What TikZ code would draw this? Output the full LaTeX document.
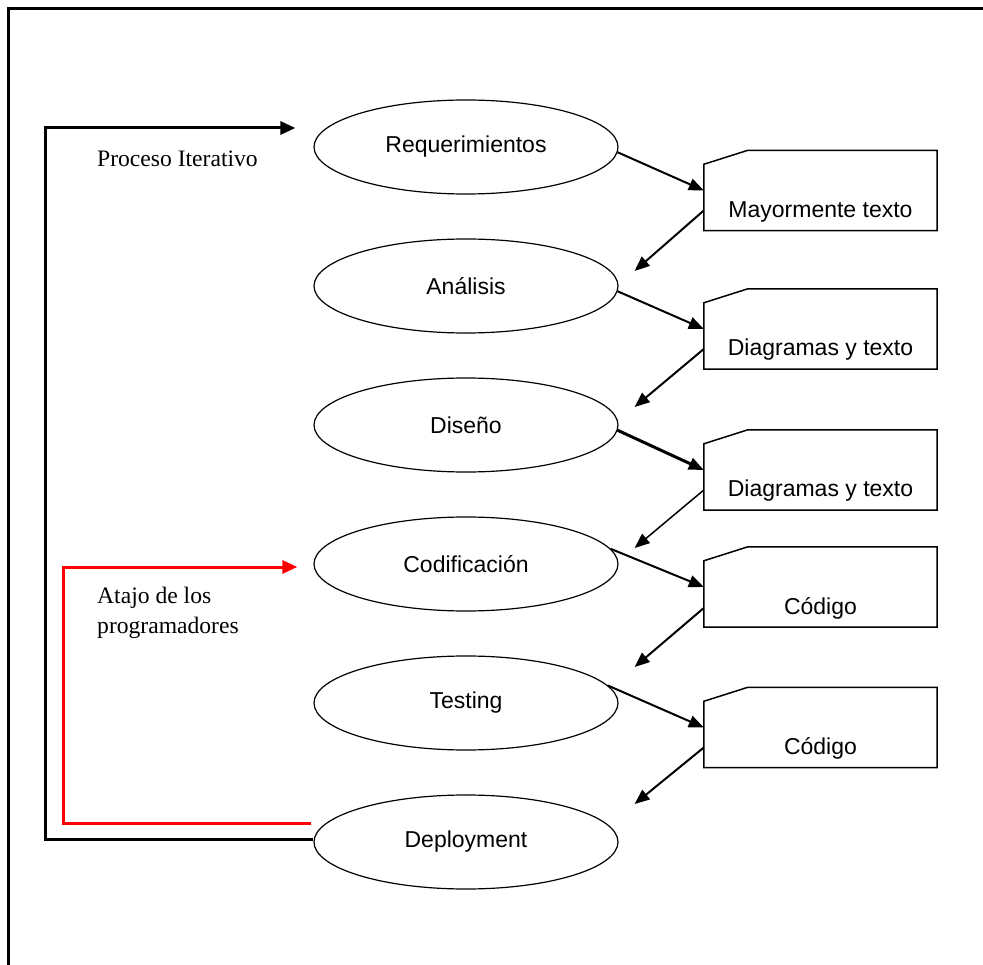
\documentclass[tikz,border=0pt]{standalone}
\usepackage{fontspec}
\setmainfont{Liberation Serif}
\newfontfamily\sansfam{Liberation Sans}
\usetikzlibrary{shapes.geometric,arrows.meta,calc}

\begin{document}
\begin{tikzpicture}[x=1pt,y=-1pt,
  stage/.style={ellipse,draw,line width=1.2pt,minimum width=304pt,minimum height=94pt,
    inner sep=0pt,font=\sansfam\fontsize{23}{27}\selectfont},
  doc/.style={minimum width=233pt,minimum height=80pt,inner sep=0pt,
    font=\sansfam\fontsize{23}{27}\selectfont},
  docline/.style={line width=1.5pt,line join=miter},
  flow/.style={line width=2pt,-{Triangle[length=15pt,width=12pt]}},
  loopline/.style={line width=3pt,-{Triangle[length=15pt,width=13pt]}},
  note/.style={font=\fontsize{23.6}{30}\selectfont,inner sep=0pt}
]
\useasboundingbox (0,0) rectangle (983,965);
\fill[white] (0,0) rectangle (983,965);

% outer frame
\draw[line width=3pt] (8,965) -- (8,9) -- (983,9);

% stages
\node[stage] (req) at (466,147) {Requerimientos};
\node[stage] (ana) at (466,286) {Análisis};
\node[stage] (dis) at (466,425) {Diseño};
\node[stage] (cod) at (466,564) {Codificación};
\node[stage] (tes) at (466,703) {Testing};
\node[stage] (dep) at (466,842) {Deployment};

% artefacts
\node[doc] (d1) at (820.5,190.5) {\raisebox{-27pt}[0pt][0pt]{Mayormente texto}};
\node[doc] (d2) at (820.5,329)   {\raisebox{-27pt}[0pt][0pt]{Diagramas y texto}};
\node[doc] (d3) at (820.5,470)   {\raisebox{-27pt}[0pt][0pt]{Diagramas y texto}};
\node[doc] (d4) at (820.5,587)   {\raisebox{-27pt}[0pt][0pt]{Código}};
\node[doc] (d5) at (820.5,727.5) {\raisebox{-27pt}[0pt][0pt]{Código}};
\foreach \b in {d1,d2,d3,d4,d5}
  \draw[docline] (\b.south west) -- ($(\b.north west)+(0,14)$)
    -- ($(\b.north west)+(44,0)$) -- (\b.north east) -- (\b.south east) -- cycle;

% stage -> artefact
\draw[flow] (req.-2) -- (d1.west);
\draw[flow] (ana.-2) -- (d2.west);
\draw[flow,line width=3pt] (dis.-2) -- (d3.west);
\draw[flow] (cod.6) -- (d4.west);
\draw[flow] (tes.7) -- (d5.west);

% artefact -> next stage
\draw[flow] ($(d1.west)+(0,20)$) -- ($(ana.east)+(16,-15)$);
\draw[flow] ($(d2.west)+(0,20)$) -- ($(dis.east)+(16,-18)$);
\draw[flow,line width=1.5pt] ($(d3.west)+(0,20)$) -- ($(cod.east)+(16,-16)$);
\draw[flow] ($(d4.west)+(0,21)$) -- ($(tes.east)+(16,-36)$);
\draw[flow] ($(d5.west)+(0,20)$) -- ($(dep.east)+(16,-38)$);

% iteration loop and shortcut
\draw[loopline] ($(dep.west)+(0,-3)$) -- ++(-268,0) |- ($(req.west)+(-18,-19)$);
\draw[loopline,red] ($(dep.west)+(-2,-19)$) -- ++(-248,0) |- ($(cod.west)+(-16,3)$);

\node[note,anchor=base west] (lp) at (97,167) {Proceso Iterativo};
\node[note,anchor=base west] (sc1) at (97,603) {Atajo de los};
\node[note,anchor=base west] (sc2) at (97,633) {programadores};
\end{tikzpicture}
\end{document}
